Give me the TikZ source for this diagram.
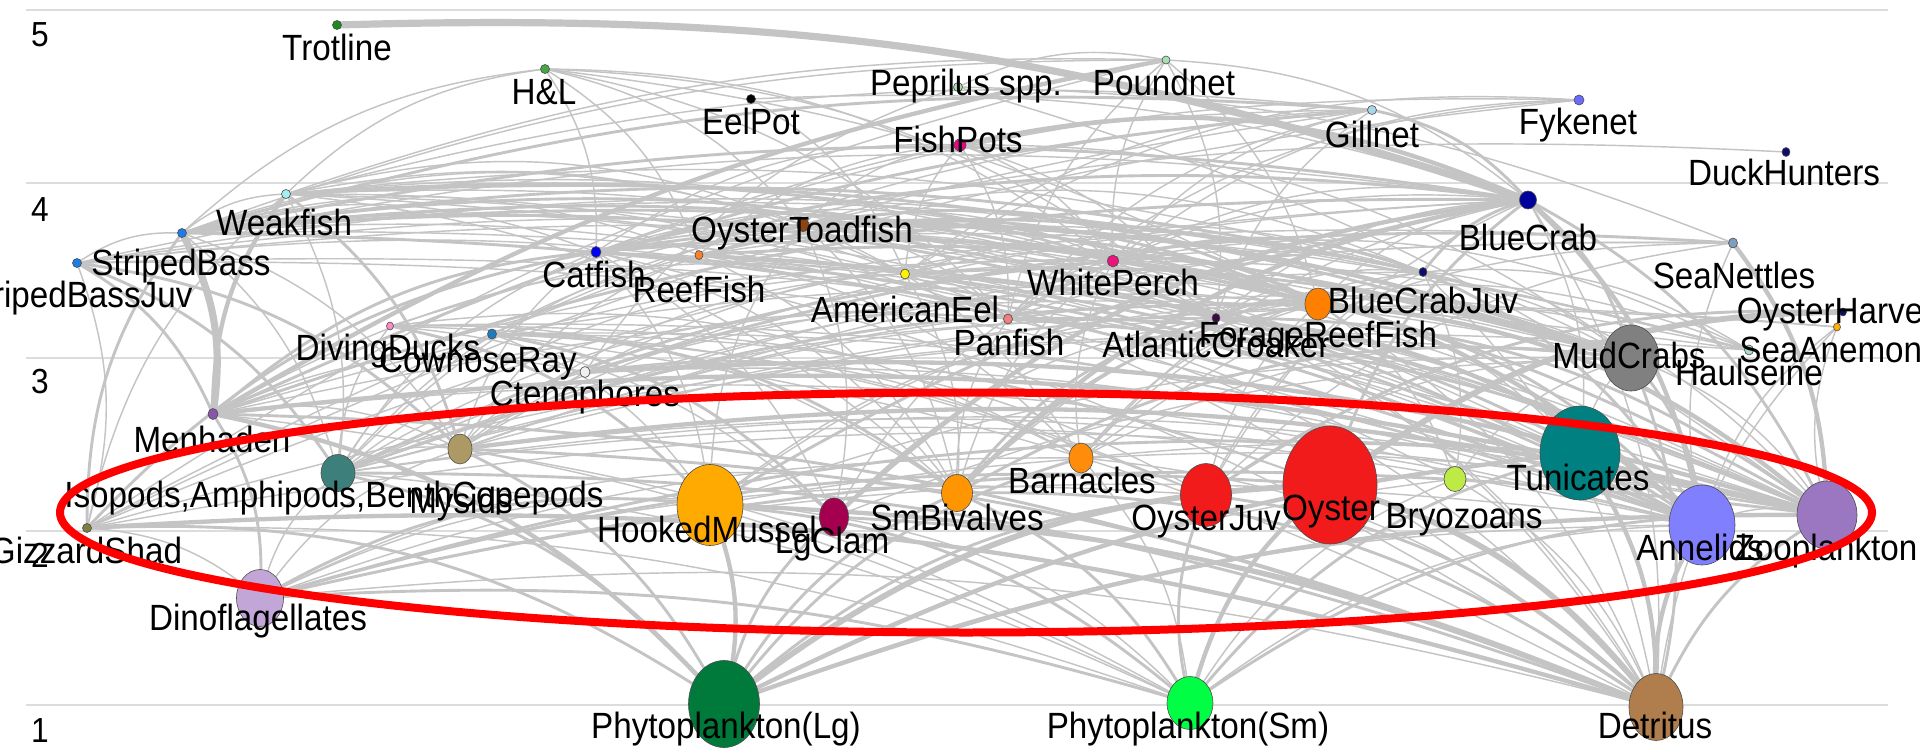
\documentclass[tikz,border=0pt]{standalone}
\usepackage{fontspec}
\setmainfont{Liberation Sans}[FakeStretch=0.91]
\usetikzlibrary{shapes.geometric}
\pgfdeclarelayer{grid}\pgfdeclarelayer{edges}\pgfdeclarelayer{labels}\pgfdeclarelayer{top}
\pgfsetlayers{grid,edges,main,labels,top}
\newcommand\labfont{\fontsize{9.125}{10}\selectfont}
\newcommand\levfont{\fontsize{8.7}{9}\selectfont}
\newdimen\myxa \newdimen\myxb \newdimen\mydx
\definecolor{cTrot}{HTML}{1E8B1E}\definecolor{cHL}{HTML}{45A845}\definecolor{cPep}{HTML}{A6E3A6}
\definecolor{cPound}{HTML}{A9DFB4}\definecolor{cGill}{HTML}{A8D8E8}\definecolor{cFyke}{HTML}{6B6BFF}
\definecolor{cNavy}{HTML}{0D0D6B}\definecolor{cWeak}{HTML}{A3F0F0}\definecolor{cBlueCrab}{HTML}{00009C}
\definecolor{cSB}{HTML}{1C7CE8}\definecolor{cSeaNet}{HTML}{7E9EC0}\definecolor{cCat}{HTML}{0000EE}
\definecolor{cReef}{HTML}{FF7F24}\definecolor{cOT}{HTML}{8B4513}\definecolor{cWP}{HTML}{E8157C}
\definecolor{cPan}{HTML}{F08080}\definecolor{cCroak}{HTML}{3B0A45}\definecolor{cForage}{HTML}{FF8000}
\definecolor{cDucks}{HTML}{FF8AC8}\definecolor{cCow}{HTML}{1B7DC0}\definecolor{cCteno}{HTML}{F0F0F0}
\definecolor{cMud}{HTML}{808080}\definecolor{cHaul}{HTML}{A8DDC9}\definecolor{cAnem}{HTML}{FFB000}
\definecolor{cMenh}{HTML}{8855AA}\definecolor{cMys}{HTML}{AD9963}\definecolor{cIsop}{HTML}{3D7F7B}
\definecolor{cHM}{HTML}{FFAA00}\definecolor{cLg}{HTML}{A50050}\definecolor{cSmB}{HTML}{FF9500}
\definecolor{cBarn}{HTML}{FF8C0A}\definecolor{cRed}{HTML}{F21B1B}\definecolor{cBryo}{HTML}{BEEA45}
\definecolor{cTeal}{HTML}{008080}\definecolor{cAnn}{HTML}{8080FF}\definecolor{cZoo}{HTML}{9B77C2}
\definecolor{cGizz}{HTML}{7F7F3F}\definecolor{cDino}{HTML}{C2A6D8}\definecolor{cPLg}{HTML}{007A3A}
\definecolor{cPSm}{HTML}{00FF44}\definecolor{cDetr}{HTML}{B07D4C}\definecolor{cEdge}{HTML}{C4C4C4}
\definecolor{cGrid}{HTML}{DCDCDC}
\tikzset{
  v/.style={ellipse, draw=black!70, line width=0.15pt, inner sep=0pt, outer sep=0pt},
  lab/.style={font=\labfont, anchor=base, inner sep=0pt, text=black},
  lev/.style={font=\levfont, anchor=base, inner sep=0pt, text=black},
  edge/.style={draw=cEdge},
  gridline/.style={draw=cGrid, line width=0.375pt},
  redring/.style={draw=red, line width=2pt}
}
\newcommand\vtx[9]{\node[v,minimum width=0.25*#4pt,minimum height=0.25*#5pt,fill=#6] (#1) at (#2,#3) {};
\begin{pgfonlayer}{labels}\node[lab] (#1L) at (#8,#9) {#7};\end{pgfonlayer}}
\begin{document}
\begin{tikzpicture}[x=0.25pt,y=-0.25pt]
\useasboundingbox (0,0) rectangle (1920,750);
\begin{pgfonlayer}{grid}
\fill[white] (0,0) rectangle (1920,750);
\foreach \yy in {10,183,358,531,705} \draw[gridline] (26,\yy) -- (1888,\yy);
\end{pgfonlayer}
\node[lev] (lev5) at (40,47) {5};
\node[lev] (lev4) at (40,222) {4};
\node[lev] (lev3) at (40,393) {3};
\node[lev] (lev2) at (40,567) {2};
\node[lev] (lev1) at (40,742) {1};
\vtx{trot}{337}{25}{9}{9}{cTrot}{Trotline}{337}{61}
\vtx{hl}{545}{69}{9}{9}{cHL}{H\&L}{544}{105}
\vtx{eelpot}{751}{99}{9}{9}{black}{EelPot}{751}{135}
\vtx{pep}{958}{87}{9}{9}{cPep}{Peprilus spp.}{966}{95}
\vtx{pound}{1166}{60}{8}{8}{cPound}{Poundnet}{1164}{95}
\vtx{fishpots}{960}{145}{12}{12}{magenta}{FishPots}{958}{152}
\vtx{gill}{1372}{110}{9}{9}{cGill}{Gillnet}{1372}{147}
\vtx{fyke}{1579}{100}{10}{10}{cFyke}{Fykenet}{1578}{135}
\vtx{duckh}{1786}{152}{8}{9}{cNavy}{DuckHunters}{1784}{185}
\vtx{weak}{286}{194}{9}{9}{cWeak}{Weakfish}{284}{235}
\vtx{bluecrab}{1528}{200}{17}{18}{cBlueCrab}{BlueCrab}{1528}{250}
\vtx{sbass}{182}{233}{9}{9}{cSB}{StripedBass}{181}{275}
\vtx{sbassjuv}{77}{263}{9}{9}{cSB}{StripedBassJuv}{77}{307}
\vtx{seanet}{1733}{243}{9}{10}{cSeaNet}{SeaNettles}{1734}{288}
\vtx{catfish}{596}{252}{10}{11}{cCat}{Catfish}{594}{287}
\vtx{reef}{699}{255}{8}{9}{cReef}{ReefFish}{699}{302}
\vtx{ot}{803}{225}{12}{13}{cOT}{OysterToadfish}{802}{242}
\vtx{aeel}{905}{274}{9}{10}{yellow}{AmericanEel}{905}{322}
\vtx{wp}{1113}{261}{11}{12}{cWP}{WhitePerch}{1113}{295}
\vtx{bcj}{1423}{272}{8}{9}{cNavy}{BlueCrabJuv}{1423}{313}
\vtx{panfish}{1008}{319}{9}{10}{cPan}{Panfish}{1009}{355}
\vtx{croak}{1216}{318}{8}{9}{cCroak}{AtlanticCroaker}{1216}{357}
\vtx{forage}{1318}{304}{26}{32}{cForage}{ForageReefFish}{1318}{347}
\vtx{ducks}{390}{326}{7}{8}{cDucks}{DivingDucks}{388}{360}
\vtx{cow}{492}{334}{9}{10}{cCow}{CownoseRay}{478}{372}
\vtx{cteno}{585}{372}{10}{11}{cCteno}{Ctenophores}{585}{406}
\vtx{mud}{1631}{358}{56}{66}{cMud}{MudCrabs}{1629}{368}
\vtx{haul}{1749}{350}{9}{10}{cHaul}{Haulseine}{1749}{385}
\vtx{oharv}{1843}{312}{7}{8}{cNavy}{OysterHarvest}{1843}{323}
\vtx{anem}{1837}{327}{7}{8}{cAnem}{SeaAnemone}{1840}{362}
\vtx{menh}{213}{414}{10}{11}{cMenh}{Menhaden}{212}{452}
\vtx{mysids}{460}{449}{24}{30}{cMys}{Mysids}{461}{513}
\vtx{isop}{338}{473}{34}{37}{cIsop}{Isopods,Amphipods,BenthCopepods}{334}{507}
\vtx{hm}{710}{505}{66}{81}{cHM}{HookedMussel}{707}{542}
\vtx{lgclam}{834}{517}{29}{38}{cLg}{LgClam}{832}{553}
\vtx{smb}{957}{493}{31}{37}{cSmB}{SmBivalves}{957}{530}
\vtx{barn}{1081}{458}{24}{30}{cBarn}{Barnacles}{1082}{493}
\vtx{ojuv}{1206}{495}{51}{63}{cRed}{OysterJuv}{1206}{530}
\vtx{oyster}{1330}{485}{94}{118}{cRed}{Oyster}{1331}{520}
\vtx{bryo}{1455}{479}{22}{25}{cBryo}{Bryozoans}{1464}{528}
\vtx{tunic}{1580}{453}{80}{94}{cTeal}{Tunicates}{1578}{490}
\vtx{annel}{1702}{525}{66}{80}{cAnn}{Annelids}{1700}{560}
\vtx{zoop}{1827}{515}{60}{68}{cZoo}{Zooplankton}{1826}{560}
\vtx{gizz}{87}{528}{9}{9}{cGizz}{GizzardShad}{86}{563}
\vtx{dino}{260}{598}{47}{57}{cDino}{Dinoflagellates}{258}{630}
\vtx{plg}{724}{704}{71}{87}{cPLg}{Phytoplankton(Lg)}{726}{738}
\vtx{psm}{1190}{703}{46}{53}{cPSm}{Phytoplankton(Sm)}{1188}{738}
\vtx{detr}{1656}{707}{54}{67}{cDetr}{Detritus}{1655}{738}
\begin{pgfonlayer}{edges}
\foreach \a/\b/\w in {
trot/bluecrab/5, hl/sbass/1, hl/weak/1, hl/catfish/1, hl/wp/1, hl/croak/1, hl/ot/1, hl/reef/1, hl/panfish/1, hl/forage/1,
eelpot/aeel/1, eelpot/bluecrab/1, pep/zoop/1, pep/cteno/1, pep/seanet/1,
pound/menh/3, pound/sbass/1, pound/weak/1, pound/croak/1, pound/pep/1, pound/gizz/1, pound/bluecrab/1, pound/wp/1, pound/forage/1, pound/panfish/1,
fishpots/catfish/1, fishpots/wp/1, fishpots/panfish/1, fishpots/aeel/1, fishpots/croak/1, fishpots/ot/1, fishpots/bluecrab/3, fishpots/reef/1, fishpots/mud/1,
gill/sbass/2, gill/weak/1, gill/menh/2, gill/wp/1, gill/croak/1, gill/catfish/1, gill/gizz/1, gill/cow/1, gill/aeel/1, gill/panfish/1, gill/bluecrab/2,
fyke/wp/1, fyke/catfish/1, fyke/aeel/1, fyke/gizz/1, fyke/panfish/1, duckh/ducks/1,
haul/menh/1, haul/wp/1, haul/catfish/1, haul/gizz/1, haul/sbass/1, haul/croak/1, haul/aeel/1, haul/panfish/1, haul/bcj/1,
oharv/oyster/4, oharv/ojuv/2,
sbass/menh/5, sbass/gizz/2, sbass/croak/2, sbass/forage/2, sbass/bluecrab/2, sbass/mysids/1, sbass/isop/1, sbass/sbassjuv/1, sbass/panfish/1, sbass/wp/2, sbass/weak/1, sbass/aeel/1,
sbass/annel/2, sbass/tunic/1, sbass/mud/2, sbass/bcj/2, sbass/ot/1, sbass/catfish/1, sbass/reef/1,
sbassjuv/mysids/2, sbassjuv/isop/2, sbassjuv/zoop/1, sbassjuv/annel/1, sbassjuv/forage/1, sbassjuv/menh/2, sbassjuv/gizz/1, sbassjuv/bcj/1, sbassjuv/mud/1, sbassjuv/panfish/1,
weak/menh/3, weak/mysids/2, weak/isop/1, weak/forage/2, weak/croak/1, weak/bcj/1, weak/zoop/1, weak/annel/1,
weak/mud/2, weak/wp/1, weak/panfish/1, weak/aeel/1, weak/ot/1, weak/smb/1, weak/gizz/1,
catfish/menh/2, catfish/gizz/2, catfish/bluecrab/2, catfish/annel/2, catfish/isop/1, catfish/detr/1, catfish/lgclam/1, catfish/mud/1,
catfish/forage/2, catfish/croak/1, catfish/wp/1, catfish/aeel/1, catfish/bcj/2, catfish/smb/1, catfish/hm/1, catfish/zoop/1, catfish/mysids/1,
reef/forage/2, reef/mud/2, reef/barn/1, reef/isop/1, reef/annel/1, reef/tunic/1, reef/zoop/2, reef/bryo/1, reef/mysids/1, reef/smb/1, reef/bcj/1,
ot/mud/3, ot/forage/2, ot/bcj/1, ot/isop/1, ot/annel/2, ot/smb/1, ot/croak/1, ot/wp/1, ot/panfish/1, ot/hm/1, ot/barn/1, ot/lgclam/1, ot/tunic/1, ot/zoop/1,
aeel/mud/2, aeel/isop/1, aeel/annel/2, aeel/forage/1, aeel/bcj/1, aeel/smb/1, aeel/zoop/1, aeel/mysids/1, aeel/panfish/1, aeel/detr/1, aeel/menh/1,
wp/annel/3, wp/isop/2, wp/mysids/1, wp/zoop/2, wp/mud/1, wp/smb/1, wp/forage/2, wp/bcj/2, wp/barn/1, wp/lgclam/1, wp/detr/1, wp/menh/1, wp/panfish/1,
panfish/isop/1, panfish/annel/2, panfish/zoop/2, panfish/mysids/1, panfish/smb/1, panfish/detr/1, panfish/forage/1,
croak/annel/3, croak/smb/2, croak/isop/1, croak/mysids/1, croak/mud/1, croak/lgclam/1, croak/zoop/2, croak/forage/2, croak/bcj/1, croak/detr/1, croak/hm/1,
forage/zoop/3, forage/annel/2, forage/isop/2, forage/barn/1, forage/mysids/1, forage/tunic/1, forage/bryo/1, forage/smb/2, forage/ojuv/1, forage/detr/1, forage/hm/1, forage/cteno/1,
bluecrab/bcj/2, bluecrab/annel/3, bluecrab/smb/3, bluecrab/lgclam/3, bluecrab/oyster/2, bluecrab/ojuv/1, bluecrab/mud/2, bluecrab/detr/1, bluecrab/hm/2, bluecrab/isop/1, bluecrab/forage/1,
bluecrab/zoop/2, bluecrab/tunic/1, bluecrab/barn/1, bluecrab/sbassjuv/1, bluecrab/menh/2, bluecrab/gizz/1, bluecrab/panfish/1, bluecrab/wp/1, bluecrab/croak/1,
bcj/annel/2, bcj/isop/1, bcj/smb/1, bcj/detr/1, bcj/zoop/1, bcj/mud/1, bcj/ojuv/1, bcj/barn/1, bcj/bryo/1,
seanet/zoop/3, seanet/cteno/2, seanet/ojuv/1, seanet/menh/1, seanet/mysids/1, seanet/annel/1, seanet/barn/1, seanet/isop/1,
ducks/smb/1, ducks/lgclam/1, ducks/hm/2, ducks/annel/1, ducks/oyster/1, ducks/ojuv/1, ducks/barn/1, ducks/isop/1,
cow/lgclam/2, cow/smb/2, cow/oyster/1, cow/hm/1, cow/annel/1, cow/mud/1, cow/ojuv/1, cow/isop/1, cow/detr/1,
cteno/zoop/3, cteno/ojuv/1, cteno/mysids/1, cteno/annel/1, cteno/barn/1, cteno/menh/1,
anem/zoop/1, anem/detr/1, anem/annel/1, anem/isop/1, anem/mysids/1,
menh/plg/3, menh/dino/2, menh/zoop/3, menh/detr/2, menh/psm/1, menh/annel/1, menh/mysids/1,
gizz/detr/3, gizz/plg/2, gizz/psm/1, gizz/dino/1, gizz/zoop/1,
mud/annel/2, mud/barn/1, mud/smb/2, mud/ojuv/1, mud/detr/2, mud/tunic/1, mud/zoop/1, mud/isop/1, mud/lgclam/1, mud/hm/1, mud/bryo/1,
isop/detr/2, isop/plg/2, isop/dino/1, isop/zoop/1, isop/psm/1, isop/annel/1,
mysids/zoop/3, mysids/detr/2, mysids/plg/2, mysids/dino/1, mysids/psm/1, mysids/annel/1, mysids/isop/1,
hm/plg/3, hm/psm/2, hm/detr/3, hm/dino/2, hm/zoop/1,
lgclam/plg/2, lgclam/psm/1, lgclam/detr/2, lgclam/dino/1, smb/plg/2, smb/psm/2, smb/detr/2, smb/dino/1,
barn/plg/2, barn/psm/1, barn/detr/1, barn/zoop/1, barn/dino/1, ojuv/plg/2, ojuv/psm/2, ojuv/detr/2, ojuv/dino/1,
oyster/plg/4, oyster/psm/3, oyster/detr/4, oyster/dino/2, bryo/psm/1, bryo/plg/1, bryo/detr/1,
tunic/plg/3, tunic/psm/2, tunic/detr/3, tunic/dino/2,
annel/detr/3, annel/plg/1, annel/psm/1, annel/dino/1, annel/zoop/1,
zoop/plg/3, zoop/psm/2, zoop/detr/2, zoop/dino/2, dino/psm/2, dino/detr/1}{%
 \pgfextractx{\myxa}{\pgfpointanchor{\a}{center}}%
 \pgfextractx{\myxb}{\pgfpointanchor{\b}{center}}%
 \mydx=\myxa \advance\mydx by -\myxb
 \ifdim\mydx<0pt \mydx=-\mydx \fi
 \ifdim\mydx>175pt \def\ang{10}\else\def\ang{18}\fi
 \ifdim\myxa<\myxb \tikzset{curv/.style={bend left=\ang}}\else\tikzset{curv/.style={bend right=\ang}}\fi
 \draw[edge, line width=0.36*\w pt] (\a.center) to[curv] (\b.center);
}
\end{pgfonlayer}
\begin{pgfonlayer}{top}
\draw[redring] (966,512.5) ellipse [x radius=906, y radius=120];
\end{pgfonlayer}
\end{tikzpicture}
\end{document}
